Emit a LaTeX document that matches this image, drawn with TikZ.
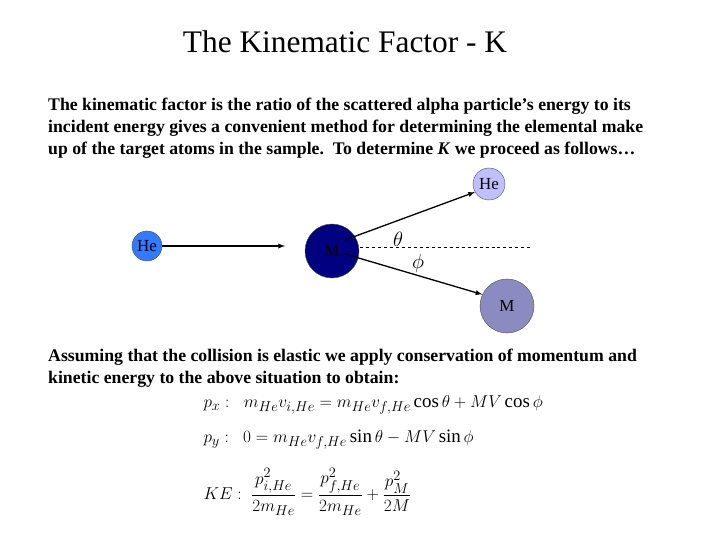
\documentclass[tikz,border=0pt]{standalone}
\usepackage{fontspec}
\setmainfont{Liberation Serif}
\usepackage{amsmath}
\begin{document}
\begin{tikzpicture}[x=1bp,y=-1bp,
  ball/.style={circle,draw=black!70,inner sep=0pt,font=\fontsize{17}{17}\selectfont},
  arr/.style={-latex,line width=1.3pt},
  body/.style={anchor=north west,align=left,font=\fontsize{17.8}{22}\selectfont\bfseries,inner sep=0pt},
  eq/.style={anchor=west,font=\fontsize{19}{19}\selectfont}]
\useasboundingbox (0,0) rectangle (720,540);
\node[font=\fontsize{31.5}{31}\selectfont] (title) at (345,42) {The Kinematic Factor - K};
\node[body] (p1) at (48,98) {The kinematic factor is the ratio of the scattered alpha particle’s energy to its\\ incident energy gives a convenient method for determining the elemental make\\ up of the target atoms in the sample.\enspace To determine \textit{K} we proceed as follows\dots};
\node[ball,fill=blue!65!cyan!80,minimum size=30bp] (he1) at (147,246) {He};
\node[ball,fill=blue!50!black,minimum size=54bp] (m1) at (332,251) {M};
\node[ball,fill=blue!25!white,minimum size=32bp] (he2) at (489,184) {He};
\node[ball,fill=blue!30!gray!70,minimum size=54bp] (m2) at (507,306) {M};
\coordinate (a1) at (285,246);
\coordinate (d1) at (532,247);
\coordinate (s1) at (345,240);
\coordinate (s2) at (345,254);
\draw[arr] (he1.east) -- (a1);
\draw[dashed] (360,247) -- (d1);
\draw[arr] (s1) -- (he2.210);
\draw[arr] (s2) -- (m2.155);
\node[font=\fontsize{20}{20}\selectfont] (th) at (398,239) {$\theta$};
\node[font=\fontsize{20}{20}\selectfont] (ph) at (418,263) {$\phi$};
\node[body] (p2) at (48,349) {Assuming that the collision is elastic we apply conservation of momentum and\\ kinetic energy to the above situation to obtain:};
\node[eq] (e1) at (200,405) {$p_x:\ \ m_{He}v_{i,He}=m_{He}v_{f,He}\cos\theta+MV\cos\phi$};
\node[eq] (e2) at (200,440) {$p_y:\ \ 0=m_{He}v_{f,He}\sin\theta-MV\sin\phi$};
\node[eq] (e3) at (200,492) {$KE:\ \dfrac{p_{i,He}^2}{2m_{He}}=\dfrac{p_{f,He}^2}{2m_{He}}+\dfrac{p_M^2}{2M}$};
\end{tikzpicture}
\end{document}
